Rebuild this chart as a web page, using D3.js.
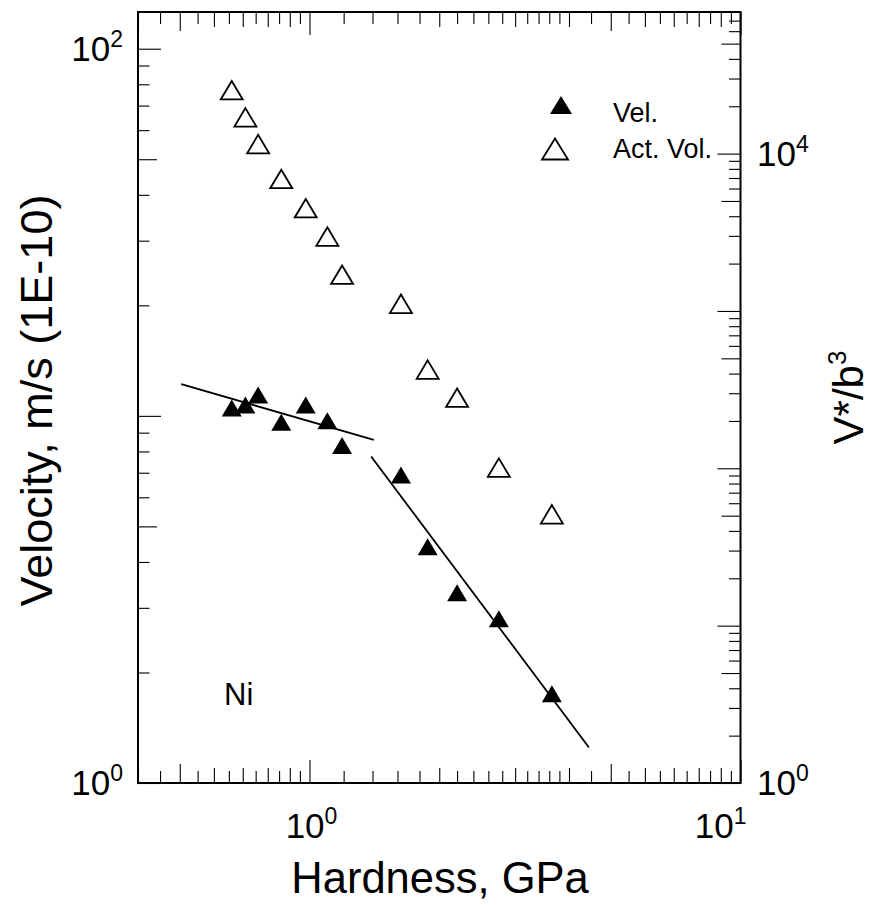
<!DOCTYPE html>
<html>
<head>
<meta charset="utf-8">
<script src="https://cdn.jsdelivr.net/npm/d3@7"></script>
<style>
  body { margin: 0; background: #fff; }
  svg { display: block; }
  text { font-family: "Liberation Sans", Arial, Helvetica, sans-serif; fill: #000; }
</style>
</head>
<body>
<svg id="chart" width="871" height="905"></svg>
<script>
// Indentation hardness, GPa
const hardness  = [0.66, 0.71, 0.76, 0.86, 0.98, 1.10, 1.19, 1.63, 1.88, 2.20, 2.75, 3.65];
// Dislocation velocity, m/s (x 1E-10), left axis
const velocity  = [10.5, 10.7, 11.4, 9.6, 10.7, 9.7, 8.3, 6.9, 4.4, 3.3, 2.8, 1.75];
// Activation volume V*/b^3, right axis
const actVolume = [25300, 17000, 11500, 6900, 4500, 2970, 1700, 1110, 424, 281, 101, 51];

// Power-law fits to the velocity in the two hardness regimes
const fitLowX  = [0.504, 1.41];
const fitLowY  = [12.2, 8.6];
const fitHighX = [1.39, 4.45];
const fitHighY = [7.75, 1.25];

// Labelled decades on each axis
const xLabelExp  = [0, 1];
const yLeftExp   = [0, 2];
const yRightExp  = [0, 4];

const legendItems = ["Vel.", "Act. Vol."];
const sampleName = "Ni";

const svg = d3.select("#chart");
const plot = { left: 138, right: 740.5, top: 12, bottom: 783 };

const x  = d3.scaleLog().domain([0.4, 10]).range([plot.left, plot.right]);
const yL = d3.scaleLog().domain([1, Math.pow(10, 2.1)]).range([plot.bottom, plot.top]);
const yR = d3.scaleLog().domain([1, Math.pow(10, 4.9)]).range([plot.bottom, plot.top]);

// ---- minor/major tick positions ----
const round = v => +v.toFixed(4);
const xTicks = [
  ...d3.range(0.4, 1.0001, 0.05),
  ...d3.range(1.2, 4.0001, 0.2),
  ...d3.range(4.5, 10.0001, 0.5)
].map(round);

function decadeTicks(maxVal) {
  const out = [];
  for (let p = 1; p <= maxVal * 1.0001; p *= 10) {
    for (let d = 1; d <= 9; d++) {
      const v = round(d * p);
      if (v <= maxVal * 1.0001) out.push(v);
    }
  }
  return out;
}
const yLTicks = decadeTicks(100);
const yRTicks = decadeTicks(80000);

const isPow10 = v => Math.abs(Math.log10(v) - Math.round(Math.log10(v))) < 1e-6;
const mant = v => round(v / Math.pow(10, Math.floor(Math.log10(v) + 1e-9)));

function xTickLen(v) {
  if (isPow10(v)) return 23;
  const m = mant(v);
  if (Math.abs(m - 5) < 1e-6) return 19;
  if (Math.abs(m - Math.round(m)) < 1e-6) return 15;
  return 12;
}
function yTickLen(v) {
  if (isPow10(v)) return 23;
  if (Math.abs(mant(v) - 5) < 1e-6) return 19;
  return 11.5;
}

// Draw a set of ticks with d3 axes, one axis per tick length class
function drawTicks(axisGen, scale, values, lenFn, transform) {
  const groups = d3.group(values, lenFn);
  for (const [len, vals] of groups) {
    const g = svg.append("g")
      .attr("transform", transform)
      .call(axisGen(scale).tickValues(vals).tickSize(-len).tickSizeOuter(0).tickFormat(""));
    g.select(".domain").remove();
    g.selectAll(".tick line").attr("stroke", "#000").attr("stroke-width", 1.1);
  }
}

drawTicks(d3.axisBottom, x, xTicks, xTickLen, `translate(0,${plot.bottom})`);
drawTicks(d3.axisTop, x, xTicks, xTickLen, `translate(0,${plot.top})`);
drawTicks(d3.axisLeft, yL, yLTicks, yTickLen, `translate(${plot.left},0)`);
drawTicks(d3.axisRight, yR, yRTicks, yTickLen, `translate(${plot.right},0)`);

// Frame
svg.append("rect")
  .attr("x", plot.left).attr("y", plot.top)
  .attr("width", plot.right - plot.left).attr("height", plot.bottom - plot.top)
  .attr("fill", "none").attr("stroke", "#000").attr("stroke-width", 2);

// ---- power-of-ten tick labels ----
const baseSize = 35, supSize = 23;
function powLabel(sel, exp) {
  sel.append("tspan").text("10");
  sel.append("tspan").attr("dy", -14).attr("font-size", supSize).text(exp);
}

xLabelExp.forEach(e => {
  const v = Math.pow(10, e);
  const atEnd = Math.abs(x(v) - plot.right) < 1;
  const t = svg.append("text")
    .attr("x", atEnd ? x(v) + 6 : x(v) + 2)
    .attr("y", 838)
    .attr("font-size", baseSize)
    .attr("text-anchor", atEnd ? "end" : "middle");
  powLabel(t, e);
});
yLeftExp.forEach(e => {
  const t = svg.append("text")
    .attr("x", 123).attr("y", yL(Math.pow(10, e)) + 12)
    .attr("font-size", baseSize).attr("text-anchor", "end");
  powLabel(t, e);
});
yRightExp.forEach(e => {
  const t = svg.append("text")
    .attr("x", 757).attr("y", yR(Math.pow(10, e)) + 12)
    .attr("font-size", baseSize).attr("text-anchor", "start");
  powLabel(t, e);
});

// ---- axis titles ----
svg.append("text")
  .attr("x", 440).attr("y", 893)
  .attr("font-size", 43.5).attr("text-anchor", "middle")
  .text("Hardness, GPa");

svg.append("text")
  .attr("transform", `translate(52,${(plot.top + plot.bottom) / 2 + 3}) rotate(-90)`)
  .attr("font-size", 45).attr("text-anchor", "middle")
  .text("Velocity, m/s (1E-10)");

const rt = svg.append("text")
  .attr("transform", `translate(863,${(plot.top + plot.bottom) / 2}) rotate(-90)`)
  .attr("font-size", 42).attr("text-anchor", "middle");
rt.append("tspan").text("V*/b");
rt.append("tspan").attr("dy", -17).attr("font-size", 26).text("3");

// ---- fit lines ----
const lineL = d3.line().x(d => x(d[0])).y(d => yL(d[1]));
[[fitLowX, fitLowY], [fitHighX, fitHighY]].forEach(([xs, ys]) => {
  svg.append("path")
    .attr("d", lineL(d3.zip(xs, ys)))
    .attr("fill", "none").attr("stroke", "#000").attr("stroke-width", 1.8);
});

// ---- markers ----
const tri = (w, h) => `M0,${-h / 2}L${w / 2},${h / 2}L${-w / 2},${h / 2}Z`;

svg.append("g").selectAll("path")
  .data(d3.zip(hardness, actVolume))
  .join("path")
  .attr("transform", d => `translate(${x(d[0])},${yR(d[1])})`)
  .attr("d", tri(22, 18.5))
  .attr("fill", "#fff").attr("stroke", "#000").attr("stroke-width", 1.8)
  .attr("stroke-linejoin", "miter");

svg.append("g").selectAll("path")
  .data(d3.zip(hardness, velocity))
  .join("path")
  .attr("transform", d => `translate(${x(d[0])},${yL(d[1])})`)
  .attr("d", tri(20, 17))
  .attr("fill", "#000");

// ---- legend ----
const legend = svg.append("g");
legend.append("path").attr("transform", "translate(561,105)").attr("d", tri(22, 18)).attr("fill", "#000");
legend.append("path").attr("transform", "translate(555,149)").attr("d", tri(26, 21))
  .attr("fill", "#fff").attr("stroke", "#000").attr("stroke-width", 1.8);
legendItems.forEach((s, i) => {
  legend.append("text").attr("x", 613).attr("y", 121.5 + i * 36).attr("font-size", 27).text(s);
});

// ---- sample annotation ----
svg.append("text").attr("x", 224).attr("y", 705).attr("font-size", 31).text(sampleName);
</script>
</body>
</html>
